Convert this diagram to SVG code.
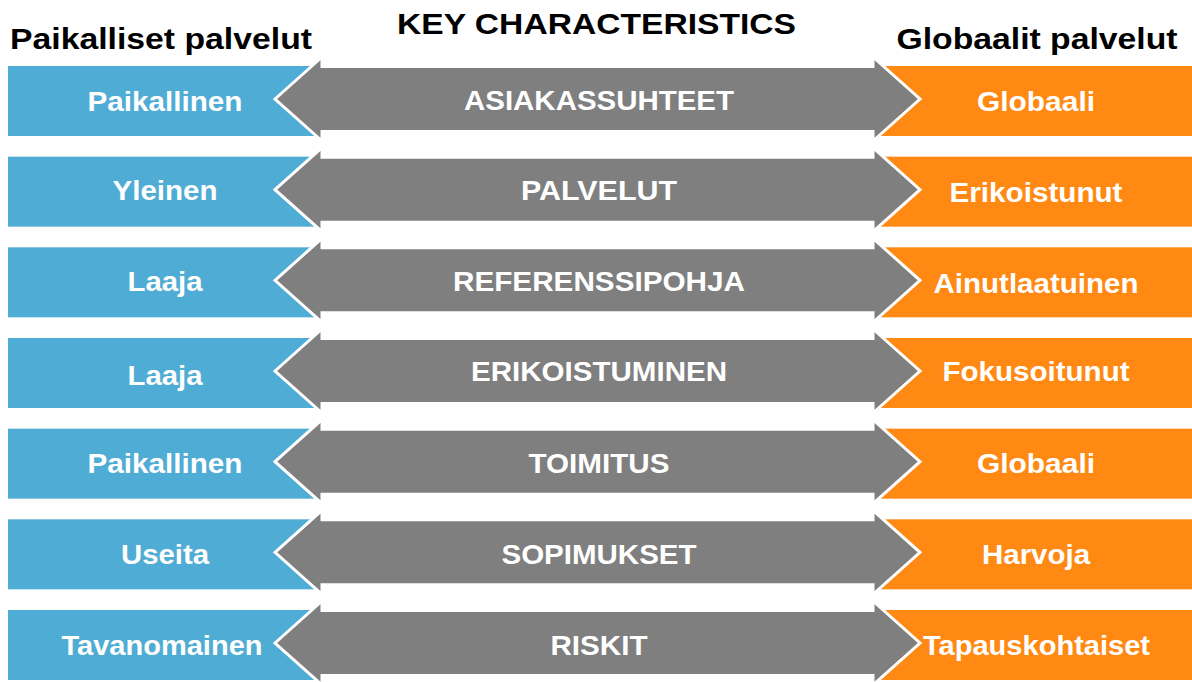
<svg xmlns="http://www.w3.org/2000/svg" xmlns:xlink="http://www.w3.org/1999/xlink" width="1192" height="682" viewBox="0 0 1192 682">
<style>
.bg{fill:#ffffff}
.left{fill:#4FACD4}
.right{fill:#FF8913}
.arrow{fill:#7F7F7F;stroke:#ffffff;stroke-width:3;stroke-linejoin:miter}
.hdr{font-family:"Liberation Sans",Arial,sans-serif;font-weight:bold;font-size:30px;fill:#000000;text-anchor:middle}
.lbl{font-family:"Liberation Sans",Arial,sans-serif;font-weight:bold;font-size:28px;fill:#ffffff;text-anchor:middle}
</style>
<defs>
<polygon id="dbl" class="arrow" points="275,33 322,-9 322,0.5 873,0.5 873,-9 920,33 873,75 873,65.5 322,65.5 322,75"/>
</defs>
<rect class="bg" x="0" y="0" width="1192" height="682"/>
<g id="headers">
<text class="hdr" x="161" y="49" textLength="302" lengthAdjust="spacingAndGlyphs">Paikalliset palvelut</text>
<text class="hdr" x="596.5" y="34" textLength="399" lengthAdjust="spacingAndGlyphs">KEY CHARACTERISTICS</text>
<text class="hdr" x="1037" y="49" textLength="281" lengthAdjust="spacingAndGlyphs">Globaalit palvelut</text>
</g>
<g id="row1">
<rect class="left" x="8" y="66" width="314" height="70"/>
<rect class="right" x="873" y="66" width="319" height="70"/>
<use xlink:href="#dbl" href="#dbl" transform="translate(0,66)"/>
<text class="lbl" x="165" y="111" textLength="155" lengthAdjust="spacingAndGlyphs">Paikallinen</text>
<text class="lbl" x="599" y="110" textLength="270" lengthAdjust="spacingAndGlyphs">ASIAKASSUHTEET</text>
<text class="lbl" x="1036" y="111" textLength="118" lengthAdjust="spacingAndGlyphs">Globaali</text>
</g>
<g id="row2">
<rect class="left" x="8" y="156.67" width="314" height="70"/>
<rect class="right" x="873" y="156.67" width="319" height="70"/>
<use xlink:href="#dbl" href="#dbl" transform="translate(0,156.67)"/>
<text class="lbl" x="165" y="200" textLength="105" lengthAdjust="spacingAndGlyphs">Yleinen</text>
<text class="lbl" x="599" y="200" textLength="156" lengthAdjust="spacingAndGlyphs">PALVELUT</text>
<text class="lbl" x="1036" y="201.5" textLength="173" lengthAdjust="spacingAndGlyphs">Erikoistunut</text>
</g>
<g id="row3">
<rect class="left" x="8" y="247.33" width="314" height="70"/>
<rect class="right" x="873" y="247.33" width="319" height="70"/>
<use xlink:href="#dbl" href="#dbl" transform="translate(0,247.33)"/>
<text class="lbl" x="165" y="291" textLength="75" lengthAdjust="spacingAndGlyphs">Laaja</text>
<text class="lbl" x="599" y="291" textLength="292" lengthAdjust="spacingAndGlyphs">REFERENSSIPOHJA</text>
<text class="lbl" x="1036" y="292.5" textLength="205" lengthAdjust="spacingAndGlyphs">Ainutlaatuinen</text>
</g>
<g id="row4">
<rect class="left" x="8" y="338" width="314" height="70"/>
<rect class="right" x="873" y="338" width="319" height="70"/>
<use xlink:href="#dbl" href="#dbl" transform="translate(0,338)"/>
<text class="lbl" x="165" y="385" textLength="75" lengthAdjust="spacingAndGlyphs">Laaja</text>
<text class="lbl" x="599" y="381" textLength="256" lengthAdjust="spacingAndGlyphs">ERIKOISTUMINEN</text>
<text class="lbl" x="1036" y="381" textLength="187" lengthAdjust="spacingAndGlyphs">Fokusoitunut</text>
</g>
<g id="row5">
<rect class="left" x="8" y="428.67" width="314" height="70"/>
<rect class="right" x="873" y="428.67" width="319" height="70"/>
<use xlink:href="#dbl" href="#dbl" transform="translate(0,428.67)"/>
<text class="lbl" x="165" y="473" textLength="155" lengthAdjust="spacingAndGlyphs">Paikallinen</text>
<text class="lbl" x="599" y="472.5" textLength="141" lengthAdjust="spacingAndGlyphs">TOIMITUS</text>
<text class="lbl" x="1036" y="473" textLength="118" lengthAdjust="spacingAndGlyphs">Globaali</text>
</g>
<g id="row6">
<rect class="left" x="8" y="519.33" width="314" height="70"/>
<rect class="right" x="873" y="519.33" width="319" height="70"/>
<use xlink:href="#dbl" href="#dbl" transform="translate(0,519.33)"/>
<text class="lbl" x="165" y="564" textLength="88" lengthAdjust="spacingAndGlyphs">Useita</text>
<text class="lbl" x="599" y="564" textLength="195" lengthAdjust="spacingAndGlyphs">SOPIMUKSET</text>
<text class="lbl" x="1036" y="564" textLength="108" lengthAdjust="spacingAndGlyphs">Harvoja</text>
</g>
<g id="row7">
<rect class="left" x="8" y="610" width="314" height="70"/>
<rect class="right" x="873" y="610" width="319" height="70"/>
<use xlink:href="#dbl" href="#dbl" transform="translate(0,610)"/>
<text class="lbl" x="162" y="655" textLength="201" lengthAdjust="spacingAndGlyphs">Tavanomainen</text>
<text class="lbl" x="599" y="655" textLength="97" lengthAdjust="spacingAndGlyphs">RISKIT</text>
<text class="lbl" x="1036.5" y="655" textLength="227" lengthAdjust="spacingAndGlyphs">Tapauskohtaiset</text>
</g>
</svg>
